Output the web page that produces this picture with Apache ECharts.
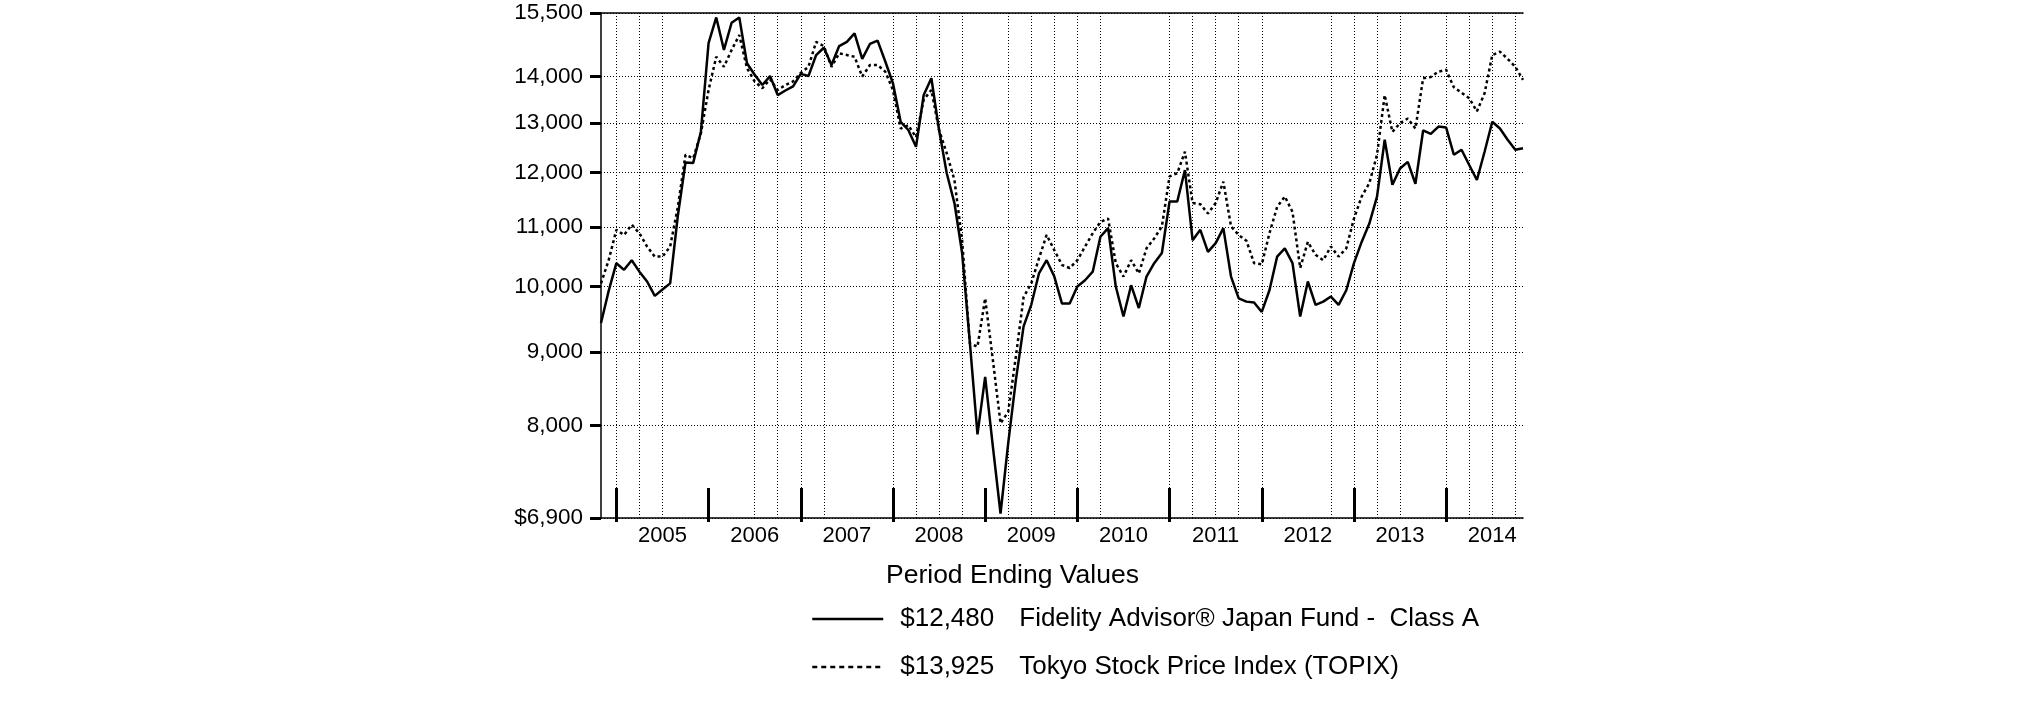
<!DOCTYPE html>
<html><head><meta charset="utf-8">
<script src="https://cdn.jsdelivr.net/npm/echarts@6/dist/echarts.min.js"></script>
<style>html,body{margin:0;padding:0;background:#fff}#c{width:2025px;height:709px}</style>
</head><body><div id="c"></div>
<script>
// Monthly period-ending categories, Oct 2004 .. Oct 2014
const startYear = 2004, startMonth = 10, monthCount = 121;
const months = [];
for (let i = 0; i < monthCount; i++) {
  const t = startMonth - 1 + i;
  months.push((startYear + Math.floor(t / 12)) + '-' + String(t % 12 + 1).padStart(2, '0'));
}

const fundValues = [
  9430, 9930, 10380, 10270, 10430, 10240, 10080, 9850, 9950, 10050,
  11200, 12200, 12190, 12810, 14770, 15390, 14610, 15260, 15390, 14300,
  14040, 13810, 14010, 13590, 13690, 13780, 14060, 14010, 14490, 14660,
  14260, 14700, 14800, 15000, 14400, 14750, 14830, 14340, 13850, 13020,
  12850, 12510, 13590, 13960, 12850, 11990, 11430, 10550, 9150, 7890,
  8650, 7740, 6950, 7780, 8610, 9380, 9710, 10210, 10430, 10160,
  9730, 9730, 10000, 10100, 10240, 10830, 10980, 10000, 9530, 10020,
  9660, 10160, 10380, 10550, 11460, 11460, 12050, 10770, 10950, 10570,
  10720, 10980, 10160, 9810, 9760, 9745, 9600, 9940, 10490, 10630,
  10380, 9530, 10080, 9710, 9760, 9840, 9710, 9940, 10380, 10740,
  11060, 11550, 12650, 11770, 12080, 12210, 11790, 12840, 12770, 12920,
  12900, 12350, 12450, 12150, 11860, 12410, 13020, 12880, 12650, 12450,
  12480
];
const topixValues = [
  10050, 10430, 10950, 10860, 11040, 10890, 10660, 10490, 10490, 10660,
  11360, 12350, 12280, 12780, 13700, 14450, 14220, 14610, 14960, 14190,
  13890, 13740, 13940, 13700, 13810, 13890, 14080, 14220, 14800, 14700,
  14220, 14530, 14490, 14450, 14000, 14260, 14260, 14110, 13700, 12880,
  12950, 12700, 13490, 13700, 12850, 12380, 11860, 10770, 9130, 9080,
  9810, 8890, 8030, 8180, 8940, 9830, 10050, 10460, 10860, 10600,
  10350, 10300, 10430, 10660, 10890, 11090, 11150, 10380, 10160, 10430,
  10210, 10630, 10800, 11010, 11930, 11990, 12410, 11430, 11410, 11240,
  11430, 11830, 11010, 10860, 10760, 10380, 10360, 10890, 11360, 11550,
  11270, 10300, 10740, 10520, 10430, 10660, 10490, 10630, 11150, 11550,
  11800, 12350, 13590, 12810, 12990, 13090, 12880, 13960, 13990, 14110,
  14150, 13760, 13640, 13520, 13240, 13630, 14490, 14570, 14400, 14220,
  13925
];
const yTickValues = [6900, 8000, 9000, 10000, 11000, 12000, 13000, 14000, 15500];
const verticalGridMonths = [2, 5, 8, 20, 23, 26, 29, 38, 41, 44, 47, 53, 56, 59, 62, 65, 74, 77, 80, 83, 86, 95, 98, 101, 104, 110, 113, 116, 119];
const seriesNames = ['Fidelity Advisor® Japan Fund -  Class A', 'Tokyo Stock Price Index (TOPIX)'];
const endingValues = ['$12,480', '$13,925'];
const legendTitle = 'Period Ending Values';

const FONT = 'Arial, "Liberation Sans", Helvetica, sans-serif';
const chart = echarts.init(document.getElementById('c'), null, { renderer: 'canvas' });
const gridSet = new Set(verticalGridMonths);
const yearTick = (i) => i % 12 === 2;

chart.setOption({
  animation: false,
  backgroundColor: '#fff',
  title: {
    text: legendTitle, left: 881, top: 557,
    textStyle: { fontFamily: FONT, fontSize: 26.5, fontWeight: 'normal', color: '#000' }
  },
  legend: {
    orient: 'vertical', left: 806, top: 601, itemWidth: 71, itemHeight: 14, itemGap: 22,
    selectedMode: false,
    itemStyle: { opacity: 0 },
    data: [
      { name: seriesNames[0], lineStyle: { width: 2.5, type: 'solid', color: '#000' } },
      { name: seriesNames[1], lineStyle: { width: 2.5, type: [5, 4], color: '#000' } }
    ],
    formatter: name => {
      const i = seriesNames.indexOf(name);
      return '{v|' + endingValues[i] + '}{n|' + name + '}';
    },
    textStyle: {
      fontFamily: FONT, fontSize: 26, color: '#000',
      rich: {
        v: { fontFamily: FONT, fontSize: 26, color: '#000', width: 119, padding: [0, 0, 0, 12] },
        n: { fontFamily: FONT, fontSize: 26, color: '#000' }
      }
    }
  },
  grid: { left: 601, right: 502, top: 13, bottom: 191, containLabel: false },
  xAxis: [{
    type: 'category', data: months, boundaryGap: false,
    axisLine: { show: true, lineStyle: { color: '#000', width: 1.5 } },
    axisTick: { show: true, inside: true, length: 30, interval: yearTick, lineStyle: { color: '#000', width: 3 } },
    axisLabel: { interval: (i) => i % 12 === 8, formatter: v => v.slice(0, 4), fontFamily: FONT, fontSize: 22, color: '#000', margin: 7 },
    splitLine: { show: true, interval: (i) => gridSet.has(i), lineStyle: { color: '#000', width: 1, type: [1, 2] } }
  }, {
    type: 'category', data: months, boundaryGap: false, position: 'top',
    axisLine: { show: true, lineStyle: { color: '#000', width: 1.5 } },
    axisTick: { show: false }, axisLabel: { show: false }, splitLine: { show: false }
  }, {
    type: 'category', data: months, boundaryGap: false, position: 'bottom', offset: 0,
    axisLine: { show: false },
    axisTick: { show: true, inside: false, length: 4, interval: yearTick, lineStyle: { color: '#000', width: 3 } },
    axisLabel: { show: false }, splitLine: { show: false }
  }],
  yAxis: {
    type: 'log', logBase: 10, min: 6900, max: 15500,
    axisLine: { show: true, lineStyle: { color: '#000', width: 1.5 } },
    axisTick: { show: true, length: 11, customValues: yTickValues, lineStyle: { color: '#000', width: 3 } },
    axisLabel: {
      customValues: yTickValues, margin: 18, fontFamily: FONT, fontSize: 22.5, color: '#000',
      formatter: v => (v === yTickValues[0] ? '$' : '') + Math.round(v).toLocaleString('en-US')
    },
    splitLine: { show: true, lineStyle: { color: '#000', width: 1, type: [1, 2] } }
  },
  series: [{
    name: seriesNames[0], type: 'line', data: fundValues, symbol: 'none',
    lineStyle: { color: '#000', width: 2.5 }, itemStyle: { color: '#000' }
  }, {
    name: seriesNames[1], type: 'line', data: topixValues, symbol: 'none',
    lineStyle: { color: '#000', width: 2.5, type: [3, 3] }, itemStyle: { color: '#000' }
  }]
});
</script></body></html>
